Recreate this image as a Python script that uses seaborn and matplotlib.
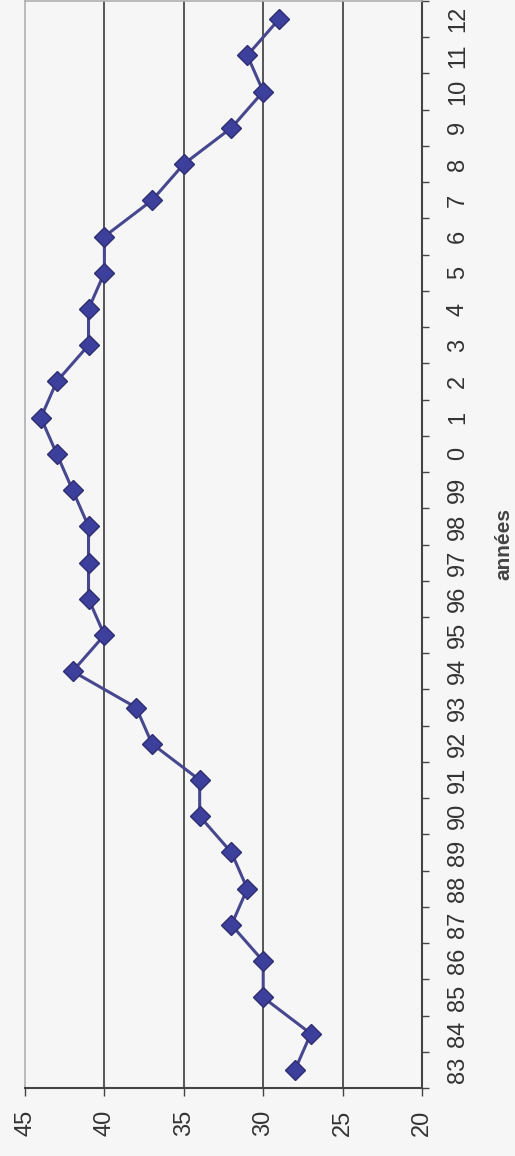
import matplotlib
matplotlib.use("Agg")
import matplotlib.pyplot as plt
import numpy as np
import pandas as pd
import seaborn as sns

# chart data
years = ["83", "84", "85", "86", "87", "88", "89", "90", "91", "92",
         "93", "94", "95", "96", "97", "98", "99", "0", "1", "2",
         "3", "4", "5", "6", "7", "8", "9", "10", "11", "12"]
values = [28, 27, 30, 30, 32, 31, 32, 34, 34, 37,
          38, 42, 40, 41, 41, 41, 42, 43, 44, 43,
          41, 41, 40, 40, 37, 35, 32, 30, 31, 29]
value_ticks = [45, 40, 35, 30, 25, 20]

df = pd.DataFrame({"annee": years, "valeur": values})
df["pos"] = np.arange(len(df)) + 0.5

sns.set_style("white")
plt.rcParams["font.family"] = ["Liberation Sans", "DejaVu Sans"]

bg = "#f6f6f6"
fig = plt.figure(figsize=(5.15, 11.56), dpi=100, facecolor=bg)
ax = fig.add_axes([25 / 515, 68 / 1156, 397 / 515, 1087 / 1156])
ax.set_facecolor(bg)

# rotated chart: values run horizontally (45 left -> 20 right), years vertically
sns.lineplot(data=df, x="valeur", y="pos", sort=False, orient="y",
             color="#47478f", linewidth=2.2, marker="D", markersize=10,
             markerfacecolor="#3d3f9c", markeredgecolor="#2e2e70",
             markeredgewidth=1, ax=ax)

ax.set_xlim(45, 20)
ax.set_ylim(0, len(years))

# value axis at the bottom
ax.set_xticks(value_ticks)
ax.set_xticklabels([str(v) for v in value_ticks], rotation=90, fontsize=17,
                   color="#333333")
ax.tick_params(axis="x", direction="out", length=6, width=1, color="#444444",
               pad=10, bottom=True)
for v in value_ticks[1:-1]:
    ax.axvline(v, color="#3a3a3a", linewidth=1.2, zorder=0)

# year axis on the right
ax.yaxis.tick_right()
ax.set_yticks(df["pos"])
ax.set_yticklabels(years, rotation=90, fontsize=17, color="#333333",
                   va="center")
ax.set_yticks(np.arange(len(years) + 1), minor=True)
ax.tick_params(axis="y", which="major", length=0, pad=18, right=True, left=False)
ax.tick_params(axis="y", which="minor", direction="out", length=5, width=1,
               color="#444444", right=True, left=False)

ax.set_xlabel("")
ax.set_ylabel("années", rotation=90, fontsize=15, fontweight="bold",
              color="#444444", labelpad=18)
ax.yaxis.set_label_position("right")

for side in ["bottom", "right"]:
    ax.spines[side].set_color("#444444")
    ax.spines[side].set_linewidth(1.5)
for side in ["top", "left"]:
    ax.spines[side].set_color("#b0b0b0")
    ax.spines[side].set_linewidth(1.2)

fig.savefig("out.png", dpi=100, facecolor=bg)
